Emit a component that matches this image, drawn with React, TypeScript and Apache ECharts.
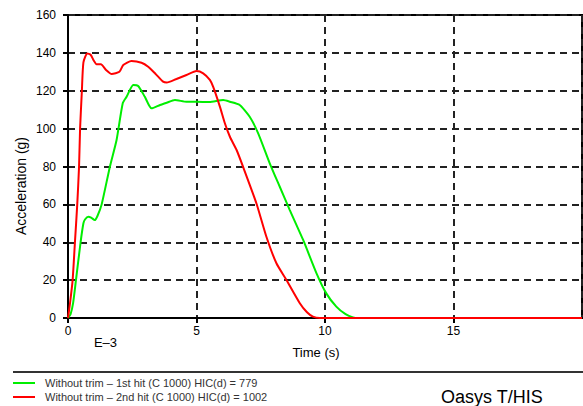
import React, { useEffect, useRef } from "react";
import * as echarts from "echarts";

const FONT = "Liberation Sans, Arial, sans-serif";

const legendLabels = [
  "Without trim – 1st hit (C 1000) HIC(d) = 779",
  "Without trim – 2nd hit (C 1000) HIC(d) = 1002",
];
const seriesColors = ["#00ee00", "#ff0000"];

// 1st hit (green): time (ms) and acceleration (g)
const firstHitTime = [0, 0.1, 0.2, 0.31, 0.49, 0.6, 0.66, 0.79, 0.9, 1.04, 1.15, 1.31, 1.63, 1.89, 2.13, 2.28, 2.54, 2.73, 2.99, 3.25, 3.58, 3.84, 4.16, 4.61, 5.0, 5.5, 6.04, 6.3, 6.68, 7.07, 7.4, 7.85, 8.24, 8.63, 9.15, 9.67, 10.05, 10.44, 10.8, 11.09, 11.3, 20];
const firstHitAccel = [0, 2, 8, 20, 40, 50, 52, 53.5, 53, 51.7, 54, 60, 79.9, 94, 113.4, 116.8, 123, 122.5, 116.8, 110.7, 112.5, 113.7, 115.1, 114.2, 114.2, 114, 115.1, 114.2, 112.5, 106.3, 97.5, 81.7, 69.3, 57, 41.2, 23.6, 13, 6, 2, 0.3, 0, 0];

// 2nd hit (red)
const secondHitTime = [0, 0.08, 0.18, 0.27, 0.36, 0.43, 0.47, 0.54, 0.6, 0.75, 0.88, 1.0, 1.11, 1.28, 1.48, 1.7, 2.0, 2.15, 2.47, 2.86, 3.12, 3.4, 3.7, 3.84, 4.22, 4.61, 5.0, 5.26, 5.52, 5.65, 5.91, 6.1, 6.3, 6.56, 6.81, 7.33, 7.72, 8.11, 8.5, 9.02, 9.3, 9.53, 9.8, 20];
const secondHitAccel = [0, 8, 20, 40, 60, 80, 100, 120, 135, 139.7, 139, 136, 134, 134, 131, 128.8, 130, 133.6, 135.7, 134.8, 132.7, 129, 124.8, 124.3, 126.2, 128.3, 130.4, 129.2, 125.7, 122, 111.6, 103, 95.7, 88.7, 79.9, 60.6, 42.9, 28.9, 20.1, 7.8, 3, 0.7, 0, 0];

const xTicks = [0, 5, 10, 15, 20];
const yTicks = [0, 20, 40, 60, 80, 100, 120, 140, 160];

const zip = (xs: number[], ys: number[]) => xs.map((x, i) => [x, ys[i]]);

export default function App() {
  const ref = useRef<HTMLDivElement>(null);
  useEffect(() => {
    if (!ref.current) return;
    const chart = echarts.init(ref.current, undefined, { renderer: "svg" });
    const dash = { color: "#222", width: 2, type: [7, 5] as any };
    chart.setOption({
      animation: false,
      backgroundColor: "#ffffff",
      textStyle: { fontFamily: FONT },
      grid: {
        left: 68,
        right: 1,
        top: 15,
        bottom: 88,
        show: true,
        borderColor: "#000",
        borderWidth: 2,
        backgroundColor: "transparent",
      },
      xAxis: {
        type: "value",
        min: xTicks[0],
        max: xTicks[xTicks.length - 1],
        interval: 5,
        axisLine: { show: true, lineStyle: { color: "#000", width: 2 } },
        axisTick: { show: true, length: 5, lineStyle: { color: "#000", width: 2 } },
        axisLabel: {
          showMaxLabel: false,
          margin: 7,
          color: "#000",
          fontSize: 12,
          fontFamily: FONT,
        },
        splitLine: { show: true, lineStyle: dash },
      },
      yAxis: {
        type: "value",
        min: yTicks[0],
        max: yTicks[yTicks.length - 1],
        interval: 20,
        axisLine: { show: true, lineStyle: { color: "#000", width: 2 } },
        axisTick: { show: true, length: 5, lineStyle: { color: "#000", width: 2 } },
        axisLabel: { margin: 12, color: "#000", fontSize: 12, fontFamily: FONT },
        splitLine: { show: true, lineStyle: dash },
      },
      series: [
        {
          type: "line",
          name: legendLabels[0],
          data: zip(firstHitTime, firstHitAccel),
          showSymbol: false,
          smooth: 0.2,
          lineStyle: { color: seriesColors[0], width: 2 },
          z: 3,
        },
        {
          type: "line",
          name: legendLabels[1],
          data: zip(secondHitTime, secondHitAccel),
          showSymbol: false,
          smooth: 0.2,
          lineStyle: { color: seriesColors[1], width: 2 },
          z: 4,
        },
      ],
      graphic: [
        {
          type: "text",
          x: 21,
          y: 186,
          rotation: Math.PI / 2,
          style: { text: "Acceleration (g)", fill: "#000", font: `14px ${FONT}`, align: "center", verticalAlign: "middle" },
        },
        {
          type: "text",
          x: 105.5,
          y: 342,
          style: { text: "E–3", fill: "#000", font: `13px ${FONT}`, align: "center", verticalAlign: "middle" },
        },
        {
          type: "text",
          x: 316,
          y: 352,
          style: { text: "Time (s)", fill: "#000", font: `13px ${FONT}`, align: "center", verticalAlign: "middle" },
        },
        {
          type: "line",
          shape: { x1: 13, y1: 372, x2: 583, y2: 372 },
          style: { stroke: "#333", lineWidth: 2 },
        },
        {
          type: "line",
          shape: { x1: 13, y1: 383, x2: 35, y2: 383 },
          style: { stroke: seriesColors[0], lineWidth: 2 },
        },
        {
          type: "text",
          x: 45,
          y: 383,
          style: { text: legendLabels[0], fill: "#333", font: `11px ${FONT}`, verticalAlign: "middle" },
        },
        {
          type: "line",
          shape: { x1: 13, y1: 397, x2: 35, y2: 397 },
          style: { stroke: seriesColors[1], lineWidth: 2 },
        },
        {
          type: "text",
          x: 45,
          y: 397,
          style: { text: legendLabels[1], fill: "#333", font: `11px ${FONT}`, verticalAlign: "middle" },
        },
        {
          type: "text",
          x: 441,
          y: 397,
          style: { text: "Oasys T/HIS", fill: "#000", font: `18px ${FONT}`, verticalAlign: "middle" },
        },
      ],
    });
    return () => chart.dispose();
  }, []);
  return (
    <div
      ref={ref}
      style={{ position: "absolute", left: 0, top: 0, width: 583, height: 406, background: "#fff" }}
    />
  );
}
